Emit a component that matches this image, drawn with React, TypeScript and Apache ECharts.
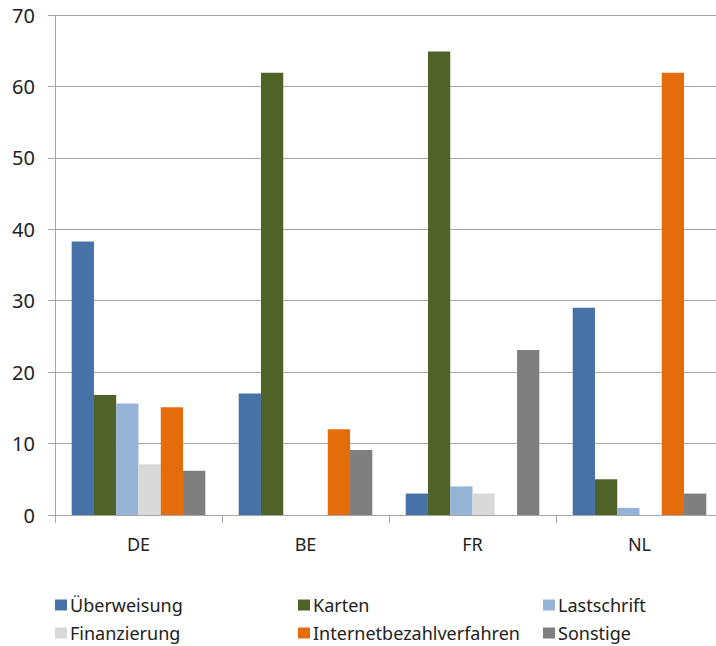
import React, { useEffect, useRef } from "react";
import * as echarts from "echarts";

const categories = ["DE", "BE", "FR", "NL"];
const seriesNames = ["Überweisung", "Karten", "Lastschrift", "Finanzierung", "Internetbezahlverfahren", "Sonstige"];
const ueberweisung = [38.3, 17.0, 3.0, 29.0];
const karten = [16.8, 61.9, 64.9, 5.0];
const lastschrift = [15.6, 0, 4.0, 1.0];
const finanzierung = [7.1, 0, 3.0, 0];
const internet = [15.1, 12.0, 0, 61.9];
const sonstige = [6.2, 9.1, 23.1, 3.0];
const yTicks = [0, 10, 20, 30, 40, 50, 60, 70];

const colors = ["#4672A8", "#4F6228", "#95B3D7", "#D9D9D9", "#E46C0A", "#7F7F7F"];
const seriesData = [ueberweisung, karten, lastschrift, finanzierung, internet, sonstige];

const FONT = "Noto Sans";

export default function App() {
  const ref = useRef<HTMLDivElement>(null);
  useEffect(() => {
    const chart = echarts.init(ref.current!, null, { renderer: "svg" });
    const legendPos = [
      [55, 596], [298, 596], [543, 596],
      [55, 624], [298, 624], [543, 624],
    ];
    chart.setOption({
      animation: false,
      textStyle: { fontFamily: FONT },
      grid: { left: 55, top: 15, right: 7, bottom: 131 },
      legend: seriesNames.map((n, i) => ({
        data: [n],
        left: legendPos[i][0],
        top: legendPos[i][1],
        itemWidth: 12,
        itemHeight: 11,
        itemGap: 4,
        icon: "rect",
        padding: 0,
        textStyle: { fontFamily: FONT, fontSize: 18, color: "#222", padding: [0, 0, 0, -2] },
      })),
      xAxis: {
        type: "category",
        data: categories,
        axisLine: { lineStyle: { color: "#A6A6A6", width: 1 } },
        axisTick: { show: true, length: 8, lineStyle: { color: "#A6A6A6" } },
        axisLabel: { fontFamily: FONT, fontSize: 18, color: "#222", margin: 20 },
      },
      yAxis: {
        type: "value",
        min: yTicks[0],
        max: yTicks[yTicks.length - 1],
        interval: 10,
        axisLine: { show: true, lineStyle: { color: "#A6A6A6", width: 1 } },
        axisTick: { show: true, length: 7, lineStyle: { color: "#A6A6A6" } },
        splitLine: { lineStyle: { color: "#A6A6A6", width: 1 } },
        axisLabel: { fontFamily: FONT, fontSize: 20, color: "#222", margin: 20 },
      },
      series: seriesNames.map((n, i) => ({
        name: n,
        type: "bar",
        data: seriesData[i],
        barGap: "0%",
        barCategoryGap: "20%",
        itemStyle: { color: colors[i] },
      })),
    });
    return () => chart.dispose();
  }, []);
  return (
    <div style={{ position: "absolute", left: 0, top: 0, width: 716, height: 646, overflow: "hidden" }}>
      <div ref={ref} style={{ position: "absolute", left: 0, top: 0, width: 730, height: 646 }} />
    </div>
  );
}
